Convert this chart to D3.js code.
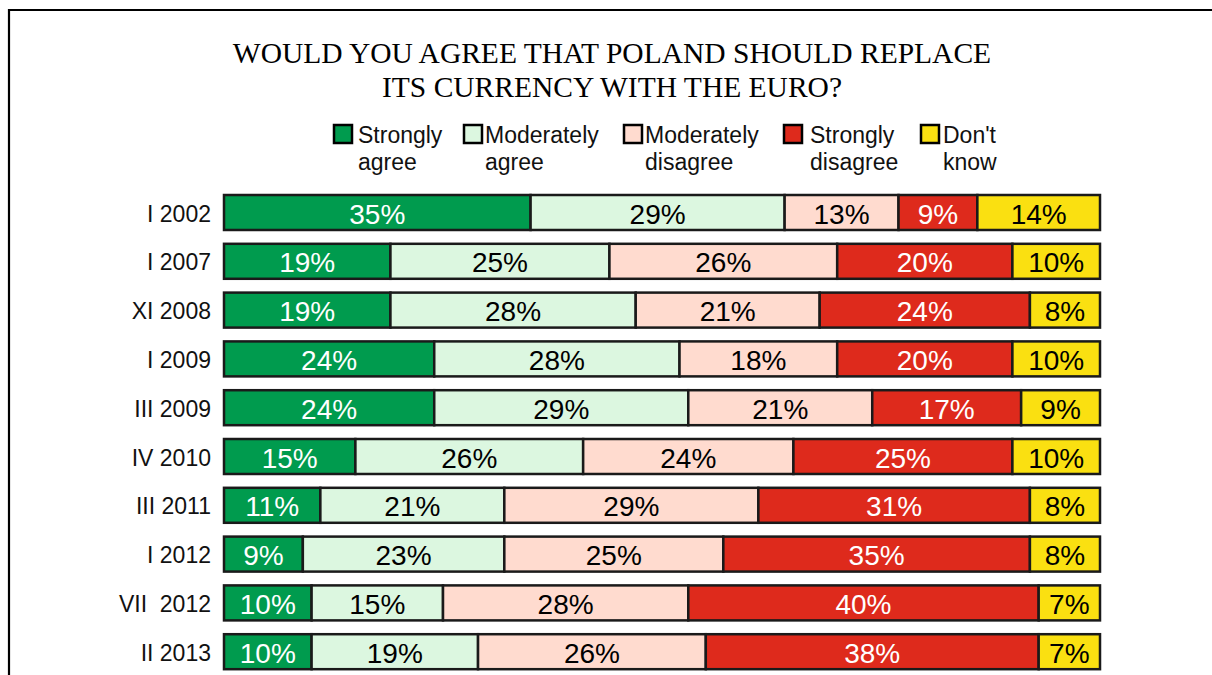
<!DOCTYPE html>
<html>
<head>
<meta charset="utf-8">
<script src="https://cdn.jsdelivr.net/npm/d3@7"></script>
<style>
  body { margin: 0; background: #fff; }
  svg { display: block; }
</style>
</head>
<body>
<div id="chart"></div>
<script>
// Chart data
const periods = ["I 2002", "I 2007", "XI 2008", "I 2009", "III 2009", "IV 2010", "III 2011", "I 2012", "VII  2012", "II 2013"];
const stronglyAgree     = [35, 19, 19, 24, 24, 15, 11, 9, 10, 10];
const moderatelyAgree   = [29, 25, 28, 28, 29, 26, 21, 23, 15, 19];
const moderatelyDisagree = [13, 26, 21, 18, 21, 24, 29, 25, 28, 26];
const stronglyDisagree  = [9, 20, 24, 20, 17, 25, 31, 35, 40, 38];
const dontKnow          = [14, 10, 8, 10, 9, 10, 8, 8, 7, 7];
const seriesNames = [["Strongly", "agree"], ["Moderately", "agree"], ["Moderately", "disagree"], ["Strongly", "disagree"], ["Don't", "know"]];
const titleLines = ["WOULD YOU AGREE THAT POLAND SHOULD REPLACE", "ITS CURRENCY WITH THE EURO?"];

const width = 1212;
const height = 675;
const colors = ["#009b4e", "#dcf7e0", "#ffdbcf", "#de2a1c", "#fae011"];
const labelColors = ["#fff", "#000", "#000", "#fff", "#000"];

const keys = ["sa", "ma", "md", "sd", "dk"];
const rows = periods.map((p, i) => ({
    period: p,
    sa: stronglyAgree[i],
    ma: moderatelyAgree[i],
    md: moderatelyDisagree[i],
    sd: stronglyDisagree[i],
    dk: dontKnow[i]
}));
const stacked = d3.stack().keys(keys)(rows);

const svg = d3.select("#chart").append("svg")
    .attr("width", width)
    .attr("height", height);

// frame (open to the right and bottom, like the cropped original)
svg.append("path")
    .attr("d", "M9,680 L9,10 L1215,10")
    .attr("fill", "none")
    .attr("stroke", "#000")
    .attr("stroke-width", 2.2);

// scales
const x = d3.scaleLinear().domain([0, 100]).range([224, 1100]);
const y = d3.scaleBand().domain(periods).range([188.1, 676.1])
    .paddingInner(0.283).paddingOuter(0.1415);

// title
svg.append("g").selectAll("text")
    .data(titleLines)
    .enter().append("text")
    .attr("x", 612)
    .attr("y", (d, i) => 63 + i * 34)
    .attr("text-anchor", "middle")
    .style("font-family", "'Liberation Serif', 'Times New Roman', serif")
    .style("font-size", "29.5px")
    .style("fill", "#000")
    .text(d => d);

// legend
const legendX = [333, 463, 623, 783, 920];
const legendTextX = [358, 485, 645, 810, 943];
const legend = svg.append("g").selectAll("g")
    .data(seriesNames)
    .enter().append("g");
legend.append("rect")
    .attr("x", (d, i) => legendX[i] + 1)
    .attr("y", 125)
    .attr("width", 18)
    .attr("height", 18)
    .attr("fill", (d, i) => colors[i])
    .attr("stroke", "#000")
    .attr("stroke-width", 2.5);
legend.each(function(d, i) {
    const g = d3.select(this);
    d.forEach((line, j) => {
        g.append("text")
            .attr("x", legendTextX[i])
            .attr("y", 143 + j * 27)
            .style("font-family", "Arial, 'Liberation Sans', sans-serif")
            .style("font-size", "23px")
            .style("fill", "#111")
            .text(line);
    });
});

// category labels
svg.append("g").selectAll("text")
    .data(periods)
    .enter().append("text")
    .attr("x", 211)
    .attr("y", d => y(d) + y.bandwidth() / 2 + 9)
    .attr("text-anchor", "end")
    .style("white-space", "pre")
    .style("font-family", "Arial, 'Liberation Sans', sans-serif")
    .style("font-size", "23px")
    .style("fill", "#111")
    .text(d => d);

// bars
const layers = svg.append("g").selectAll("g")
    .data(stacked)
    .enter().append("g");

layers.selectAll("rect")
    .data(d => d)
    .enter().append("rect")
    .attr("x", d => x(d[0]))
    .attr("y", d => y(d.data.period))
    .attr("width", d => x(d[1]) - x(d[0]))
    .attr("height", y.bandwidth())
    .attr("fill", function() { return colors[d3.select(this.parentNode).datum().index]; })
    .attr("stroke", "#1a1a1a")
    .attr("stroke-width", 2.5);

layers.each(function(layer) {
    d3.select(this).selectAll("text")
        .data(layer)
        .enter().append("text")
        .attr("x", d => (x(d[0]) + x(d[1])) / 2)
        .attr("y", d => y(d.data.period) + y.bandwidth() / 2 + 11)
        .attr("text-anchor", "middle")
        .style("font-family", "Arial, 'Liberation Sans', sans-serif")
        .style("font-size", "28px")
        .style("fill", labelColors[layer.index])
        .text(d => (d[1] - d[0]) + "%");
});
</script>
</body>
</html>
